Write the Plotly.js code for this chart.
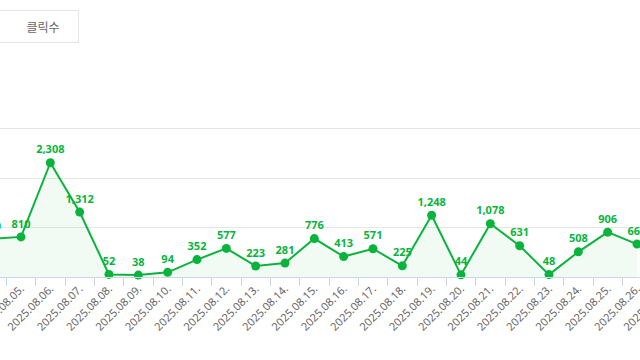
<!DOCTYPE html>
<html>
<head>
<meta charset="utf-8">
<script src="https://cdn.plot.ly/plotly-3.0.1.min.js"></script>
<style>
  html, body { margin: 0; padding: 0; width: 640px; height: 360px; overflow: hidden; background: #fff; }
  #wrap { position: relative; width: 640px; height: 360px; overflow: hidden; }
  #chart { position: absolute; left: -23px; top: 0; width: 704px; height: 360px; }
  .btn { position: absolute; top: 10px; height: 33px; border: 1px solid #e1e4e8; background: #fff;
         font-family: "Noto Sans CJK KR", "Noto Sans", sans-serif; font-size: 12px; color: #666;
         display: flex; align-items: center; justify-content: center; box-sizing: border-box; }
</style>
</head>
<body>
<div id="wrap">
  <div id="chart"></div>
  <div class="btn" style="left:-100px; width:109px;"></div>
  <div class="btn" style="left:8px; width:71px; border-left:none;">클릭수</div>
</div>
<script>
const dates = ["2025.08.04.","2025.08.05.","2025.08.06.","2025.08.07.","2025.08.08.","2025.08.09.",
  "2025.08.10.","2025.08.11.","2025.08.12.","2025.08.13.","2025.08.14.","2025.08.15.","2025.08.16.",
  "2025.08.17.","2025.08.18.","2025.08.19.","2025.08.20.","2025.08.21.","2025.08.22.","2025.08.23.",
  "2025.08.24.","2025.08.25.","2025.08.26.","2025.08.27."];
const clicks = [770, 810, 2308, 1312, 52, 38, 94, 352, 577, 223, 281, 776, 413, 571, 225, 1248, 44,
  1078, 631, 48, 508, 906, 665, null];

const green = "#0ab43c";
const labels = clicks.map(v => v == null ? "" : v.toLocaleString("en-US"));

const trace = {
  x: dates, y: clicks, type: "scatter", mode: "lines+markers+text",
  line: { color: green, width: 2 },
  marker: { color: green, size: 9 },
  fill: "tozeroy", fillcolor: "rgba(10,180,60,0.06)",
  text: labels, textposition: "top center",
  textfont: { color: green, size: 11, family: "Noto Sans, sans-serif", weight: "bold" },
  cliponaxis: false, hoverinfo: "x+y", connectgaps: false
};

const layout = {
  width: 704, height: 360,
  margin: { l: 0, r: 0, t: 79, b: 83 },
  paper_bgcolor: "#fff", plot_bgcolor: "#fff",
  showlegend: false,
  xaxis: {
    type: "category", categoryorder: "array", categoryarray: dates,
    range: [-0.5, dates.length - 0.5],
    tickson: "boundaries", ticks: "outside", ticklen: 8, tickcolor: "#ccd6eb", tickwidth: 1,
    showgrid: false, showline: true, linecolor: "#ccd6eb", linewidth: 1,
    tickangle: -45, tickfont: { size: 11, color: "#666", family: "Noto Sans, sans-serif" },
    fixedrange: true
  },
  yaxis: {
    range: [0, 4000], dtick: 1000, showticklabels: false,
    showgrid: true, gridcolor: "#e6e6e6", gridwidth: 1, zeroline: false, fixedrange: true
  }
};

Plotly.newPlot("chart", [trace], layout, { displayModeBar: false, staticPlot: true });
</script>
</body>
</html>
